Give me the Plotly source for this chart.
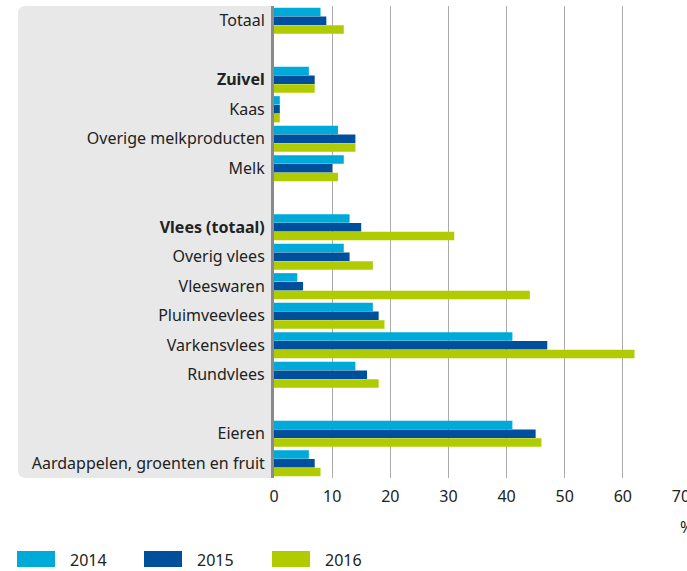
import plotly.graph_objects as go

# categorieën van boven naar onder (lege strings = witruimte tussen groepen)
categories = ["Totaal", " ", "<b>Zuivel</b>", "Kaas", "Overige melkproducten", "Melk", "  ",
              "<b>Vlees (totaal)</b>", "Overig vlees", "Vleeswaren", "Pluimveevlees",
              "Varkensvlees", "Rundvlees", "   ", "Eieren", "Aardappelen, groenten en fruit"]

years = ["2014", "2015", "2016"]
v2014 = [8, None, 6, 1, 11, 12, None, 13, 12, 4, 17, 41, 14, None, 41, 6]
v2015 = [9, None, 7, 1, 14, 10, None, 15, 13, 5, 18, 47, 16, None, 45, 7]
v2016 = [12, None, 7, 1, 14, 11, None, 31, 17, 44, 19, 62, 18, None, 46, 8]
x_ticks = [0, 10, 20, 30, 40, 50, 60, 70]

colors = ["#00aad8", "#004f9c", "#b0cb00"]
W, H = 687, 571
ML, MR, MT, MB = 274, 6, 6, 93
pw, ph = W - ML - MR, H - MT - MB

def px(x):  # pixel -> paper x
    return (x - ML) / pw

def py(y):  # pixel -> paper y
    return (H - MB - y) / ph

fig = go.Figure()
for year, vals, col in zip(years, [v2014, v2015, v2016], colors):
    fig.add_trace(go.Bar(y=categories, x=vals, name=year, orientation="h",
                         marker=dict(color=col, line=dict(width=0))))

# grijs paneel achter de labels (links afgerond)
x0, x1, y0, y1 = px(18), px(272), py(478), py(6)
rx, ry = 8 / pw, 8 / ph
path = (f"M {x1},{y0} L {x0+rx},{y0} Q {x0},{y0} {x0},{y0+ry} "
        f"L {x0},{y1-ry} Q {x0},{y1} {x0+rx},{y1} L {x1},{y1} Z")
shapes = [dict(type="path", path=path, xref="paper", yref="paper",
               fillcolor="#e8e8e8", line=dict(width=0), layer="below")]

# eigen legenda met brede vlakjes
annotations = []
for year, col, sx in zip(years, colors, [17, 144, 272]):
    shapes.append(dict(type="rect", xref="paper", yref="paper",
                       x0=px(sx), x1=px(sx + 38), y0=py(567), y1=py(551),
                       fillcolor=col, line=dict(width=0)))
    annotations.append(dict(text=year, xref="paper", yref="paper", x=px(sx + 51), y=py(560),
                            xanchor="left", yanchor="middle", showarrow=False,
                            font=dict(size=16, color="#222")))

annotations.append(dict(text="%", xref="paper", yref="paper", x=px(678), y=py(527),
                        xanchor="left", yanchor="middle", showarrow=False,
                        font=dict(size=16, color="#222")))

fig.update_layout(
    width=W, height=H,
    margin=dict(l=ML, r=MR, t=MT, b=MB, autoexpand=False),
    paper_bgcolor="white", plot_bgcolor="white",
    font=dict(family="Noto Sans", size=16, color="#222"),
    barmode="group", bargap=0.1, bargroupgap=0.04,
    showlegend=False,
    shapes=shapes, annotations=annotations,
    xaxis=dict(range=[0, 70], tickvals=x_ticks, showgrid=True, gridcolor="#ababab",
               gridwidth=1, zeroline=False, showline=False, ticks="",
               automargin=False, ticklabeloverflow="allow", ticklabelstandoff=7,
               tickfont=dict(size=16, color="#222")),
    yaxis=dict(categoryorder="array", categoryarray=categories, autorange="reversed",
               showline=True, linecolor="#8a8a8a", linewidth=3, showgrid=False,
               automargin=False, ticks="", ticklabelstandoff=3,
               tickfont=dict(size=16, color="#222")),
)

fig.write_html("out.html", config={"displayModeBar": False},
               post_script="document.body.style.margin='0';")
